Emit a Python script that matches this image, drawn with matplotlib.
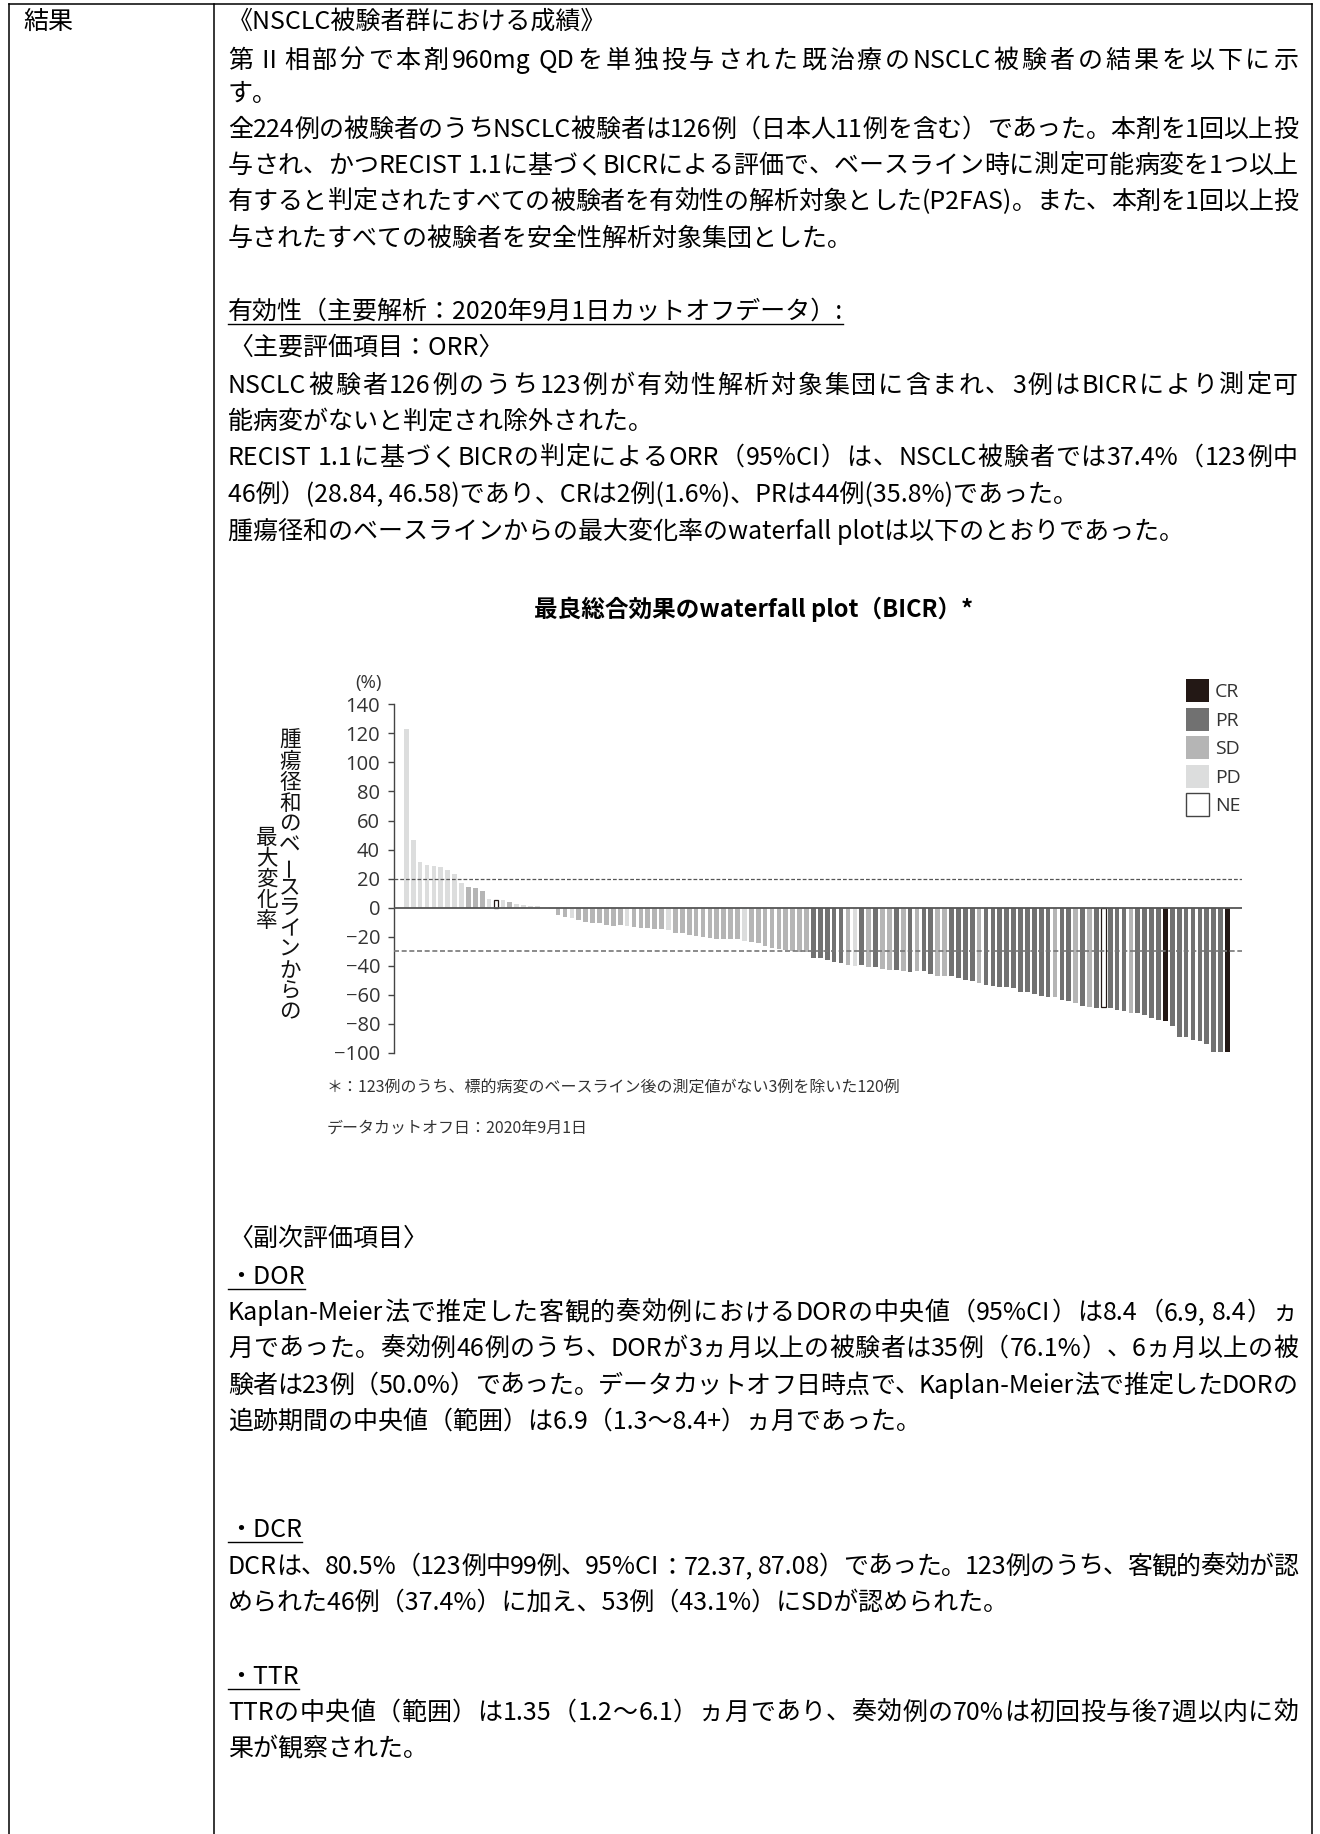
import re
import matplotlib
matplotlib.use("Agg")
import matplotlib.pyplot as plt
from matplotlib.patches import Patch
from matplotlib.lines import Line2D
from matplotlib.font_manager import FontProperties

plt.rcParams['font.family'] = ['Noto Sans CJK JP', 'DejaVu Sans']

W, H, DPI = 1320, 1834, 100

# ---------------- data ----------------
bar_values = [
    123.0, 46.4, 31.7, 29.2, 28.7, 28.3, 25.7, 23.0, 17.2, 14.0,
    13.3, 11.5, 6.2, 5.5, 5.0, 3.9, 2.5, 1.6, 1.1, 1.1,
    0.0, -1.1, -4.8, -6.7, -7.1, -8.5, -10.1, -10.8, -10.8, -12.0,
    -12.4, -12.0, -12.6, -13.1, -14.3, -14.3, -14.9, -14.9, -15.6, -17.2,
    -17.7, -18.9, -19.5, -20.2, -20.7, -21.8, -21.8, -21.8, -21.8, -23.0,
    -23.7, -24.6, -26.2, -27.6, -28.3, -29.0, -30.1, -30.8, -30.8, -34.5,
    -34.5, -36.1, -37.2, -37.9, -39.1, -39.8, -39.5, -40.9, -41.1, -42.5,
    -43.0, -43.0, -43.4, -44.1, -43.4, -43.9, -45.5, -46.9, -46.9, -47.1,
    -48.2, -49.7, -50.3, -51.5, -53.3, -53.8, -54.5, -54.9, -55.6, -57.7,
    -57.7, -59.3, -60.7, -61.4, -61.4, -63.4, -63.9, -65.7, -67.6, -68.0,
    -68.7, -68.5, -69.0, -70.1, -70.8, -72.6, -72.6, -73.6, -76.1, -77.2,
    -77.9, -81.1, -88.7, -89.2, -90.8, -92.0, -93.8, -99.5, -99.5, -99.5,
]
bar_response = [
    'PD', 'PD', 'PD', 'PD', 'PD', 'PD', 'PD', 'PD', 'PD', 'SD',
    'SD', 'SD', 'PD', 'NE', 'PD', 'SD', 'PD', 'PD', 'PD', 'PD',
    'SD', 'PD', 'SD', 'SD', 'PD', 'SD', 'SD', 'SD', 'SD', 'SD',
    'SD', 'SD', 'PD', 'SD', 'SD', 'SD', 'SD', 'SD', 'PD', 'SD',
    'SD', 'SD', 'SD', 'SD', 'SD', 'SD', 'SD', 'SD', 'SD', 'PD',
    'SD', 'SD', 'SD', 'SD', 'SD', 'SD', 'SD', 'SD', 'SD', 'PR',
    'PR', 'PR', 'PR', 'PR', 'SD', 'PD', 'PR', 'SD', 'PR', 'SD',
    'SD', 'PR', 'SD', 'PR', 'SD', 'PR', 'PR', 'SD', 'SD', 'PR',
    'PR', 'PR', 'PR', 'SD', 'PR', 'PR', 'PR', 'PR', 'PR', 'PR',
    'PR', 'PR', 'PR', 'PR', 'SD', 'PR', 'PR', 'SD', 'PR', 'SD',
    'PR', 'NE', 'PR', 'PR', 'PR', 'SD', 'PR', 'PR', 'PR', 'PR',
    'CR', 'PR', 'PR', 'PR', 'PR', 'PR', 'PR', 'PR', 'PR', 'CR',
]
legend_labels = ['CR', 'PR', 'SD', 'PD', 'NE']
response_colors = {'CR': '#231815', 'PR': '#717171', 'SD': '#b5b5b5',
                   'PD': '#dcdddd', 'NE': '#ffffff'}
y_ticks = [140, 120, 100, 80, 60, 40, 20, 0, -20, -40, -60, -80, -100]
ref_lines = [20, -30]

chart_title = '最良総合効果のwaterfall plot（BICR）*'
ylabel_col1 = '腫瘍径和のベースラインからの'
ylabel_col2 = '最大変化率'
footnotes = ['＊：123例のうち、標的病変のベースライン後の測定値がない3例を除いた120例',
             'データカットオフ日：2020年9月1日']

# body text lines: (y pixel, text, underline, justified)
body_lines = [
    (22, '《NSCLC被験者群における成績》', False, False),
    (61, '第Ⅱ相部分で本剤960mg QDを単独投与された既治療のNSCLC被験者の結果を以下に示', False, True),
    (94, 'す。', False, False),
    (130, '全224例の被験者のうちNSCLC被験者は126例（日本人11例を含む）であった。本剤を1回以上投', False, True),
    (166, '与され、かつRECIST 1.1に基づくBICRによる評価で、ベースライン時に測定可能病変を1つ以上', False, True),
    (202, '有すると判定されたすべての被験者を有効性の解析対象とした(P2FAS)。また、本剤を1回以上投', False, True),
    (239, '与されたすべての被験者を安全性解析対象集団とした。', False, False),
    (312, '有効性（主要解析：2020年9月1日カットオフデータ）:', True, False),
    (348, '〈主要評価項目：ORR〉', False, False),
    (386, 'NSCLC被験者126例のうち123例が有効性解析対象集団に含まれ、3例はBICRにより測定可', False, True),
    (422, '能病変がないと判定され除外された。', False, False),
    (458, 'RECIST 1.1に基づくBICRの判定によるORR（95%CI）は、NSCLC被験者では37.4%（123例中', False, True),
    (495, '46例）(28.84, 46.58)であり、CRは2例(1.6%)、PRは44例(35.8%)であった。', False, False),
    (531, '腫瘍径和のベースラインからの最大変化率のwaterfall plotは以下のとおりであった。', False, False),
    (1239, '〈副次評価項目〉', False, False),
    (1277, '・DOR', True, False),
    (1313, 'Kaplan-Meier法で推定した客観的奏効例におけるDORの中央値（95%CI）は8.4（6.9, 8.4）ヵ', False, True),
    (1349, '月であった。奏効例46例のうち、DORが3ヵ月以上の被験者は35例（76.1%）、6ヵ月以上の被', False, True),
    (1386, '験者は23例（50.0%）であった。データカットオフ日時点で、Kaplan-Meier法で推定したDORの', False, True),
    (1422, '追跡期間の中央値（範囲）は6.9（1.3〜8.4+）ヵ月であった。', False, False),
    (1530, '・DCR', True, False),
    (1567, 'DCRは、80.5%（123例中99例、95%CI：72.37, 87.08）であった。123例のうち、客観的奏効が認', False, True),
    (1603, 'められた46例（37.4%）に加え、53例（43.1%）にSDが認められた。', False, False),
    (1677, '・TTR', True, False),
    (1713, 'TTRの中央値（範囲）は1.35（1.2〜6.1）ヵ月であり、奏効例の70%は初回投与後7週以内に効', False, True),
    (1749, '果が観察された。', False, False),
]

# ---------------- figure ----------------
fig = plt.figure(figsize=(W / DPI, H / DPI), dpi=DPI)
fig.patch.set_facecolor('white')
renderer = fig.canvas.get_renderer()


def fx(px):
    return px / W


def fy(py):
    return 1 - py / H


BODY_FS = 18.0
TEXT_X0 = 228
TEXT_X1 = 1298
body_prop = FontProperties(family=['Noto Sans CJK JP', 'DejaVu Sans'], size=BODY_FS)


def twidth(s):
    if not s:
        return 0.0
    w, h, d = renderer.get_text_width_height_descent(s, body_prop, ismath=False)
    return w


def draw_justified(ypx, s):
    toks = [(m.start(), m.end()) for m in re.finditer(r'[\x21-\x7e]+|\S', s)]
    natural = twidth(s)
    extra = (TEXT_X1 - TEXT_X0) - natural
    n = len(toks)
    gap = extra / (n - 1) if n > 1 else 0
    for i, (a, b) in enumerate(toks):
        tok = s[a:b]
        left = twidth(s[:b]) - twidth(tok)
        fig.text(fx(TEXT_X0 + left + i * gap), fy(ypx), tok, fontproperties=body_prop,
                 va='center', ha='left', color='black')


# table borders
bc = '#000000'
for xpx in (9, 214, 1312):
    fig.add_artist(Line2D([fx(xpx), fx(xpx)], [fy(4), fy(H)], color=bc, lw=1.1))
fig.add_artist(Line2D([fx(9), fx(1312)], [fy(4), fy(4)], color=bc, lw=1.1))

fig.text(fx(23), fy(22), '結果', fontproperties=body_prop, va='center', ha='left', color='black')

underline_texts = []
for ypx, txt, ul, just in body_lines:
    if just:
        draw_justified(ypx, txt)
    else:
        t = fig.text(fx(TEXT_X0), fy(ypx), txt, fontproperties=body_prop,
                     va='center', ha='left', color='black')
        if ul:
            underline_texts.append(t)

# ---------------- chart ----------------
ax = fig.add_axes([fx(394), fy(1053), fx(1242) - fx(394), (1053 - 704.3) / H])
xs = list(range(1, len(bar_values) + 1))
colors = [response_colors[r] for r in bar_response]
edges = ['#231815' if r == 'NE' else 'none' for r in bar_response]
lws = [0.9 if r == 'NE' else 0 for r in bar_response]
ax.bar(xs, bar_values, width=0.68, color=colors, edgecolor=edges, linewidth=lws, zorder=2)
ax.axhline(0, color='#555555', lw=1.3, zorder=3)
ax.axhline(ref_lines[0], color='#555555', lw=0.9, ls=(0, (3, 1.6)), zorder=4)
ax.axhline(ref_lines[1], color='#777777', lw=1.2, ls=(0, (3, 1.6)), zorder=4)
ax.set_xlim(-0.78, 122.1)
ax.set_ylim(-100, 140)
ax.set_yticks(y_ticks)
ax.set_yticklabels([('−' + str(abs(v))) if v < 0 else str(v) for v in y_ticks],
                   fontsize=14.5, color='#333333', family=['Open Sans', 'DejaVu Sans'])
ax.tick_params(axis='y', length=4, width=1, color='#444444', pad=6)
ax.set_xticks([])
for s in ('top', 'right', 'bottom'):
    ax.spines[s].set_visible(False)
ax.spines['left'].set_color('#444444')
ax.spines['left'].set_linewidth(1.0)
ax.patch.set_alpha(0)

fig.text(fx(368), fy(683), '(%)', fontsize=13.5, ha='center', va='center', color='#333333',
         family=['Open Sans', 'DejaVu Sans'])

# vertical y-label (upright characters)
step = 20.9
for i, ch in enumerate(ylabel_col1):
    fig.text(fx(290), fy(741 + i * step), ch, fontsize=15.5, ha='center', va='center',
             color='#111111', rotation=90 if ch == 'ー' else 0)
for i, ch in enumerate(ylabel_col2):
    fig.text(fx(267), fy(837.5 + i * step), ch, fontsize=15.5, ha='center', va='center',
             color='#111111', rotation=90 if ch == 'ー' else 0)

# legend
handles = [Patch(facecolor=response_colors[k],
                 edgecolor='#444444' if k == 'NE' else response_colors[k],
                 linewidth=1.0 if k == 'NE' else 0) for k in legend_labels]
leg = fig.legend(handles, legend_labels, loc='upper left',
                 bbox_to_anchor=(fx(1186), fy(679)), bbox_transform=fig.transFigure,
                 frameon=False, handlelength=1.18, handleheight=1.44,
                 handletextpad=0.3, labelspacing=0.29, borderpad=0, borderaxespad=0,
                 prop={'family': ['Open Sans', 'DejaVu Sans'], 'size': 14})
for t in leg.get_texts():
    t.set_color('#333333')

fig.text(fx(754), fy(609), chart_title, fontsize=17, fontweight='bold', ha='center',
         va='center', color='black')
fig.text(fx(327), fy(1087), footnotes[0], fontsize=11.5, ha='left', va='center', color='#333333')
fig.text(fx(327), fy(1128), footnotes[1], fontsize=11.5, ha='left', va='center', color='#333333')

# underlines
fig.canvas.draw()
renderer = fig.canvas.get_renderer()
for t in underline_texts:
    bb = t.get_window_extent(renderer)
    yline = (bb.y0 + 1) / H
    fig.add_artist(Line2D([bb.x0 / W, bb.x1 / W], [yline, yline], color='black', lw=1.0))

fig.savefig('out.png', dpi=DPI, facecolor='white')
